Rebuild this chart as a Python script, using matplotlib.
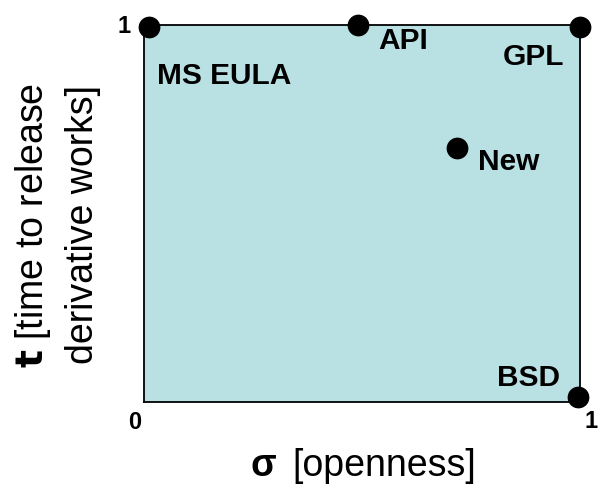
import matplotlib
matplotlib.use("Agg")
import matplotlib.pyplot as plt

plt.rcParams['font.family'] = ['Liberation Sans', 'DejaVu Sans']

names = ["MS EULA", "API", "GPL", "New", "BSD"]
sigma = [0.012, 0.49, 1.0, 0.718, 0.995]
t_vals = [0.995, 1.0, 0.995, 0.675, 0.013]
label_x = [0.03, 0.537, 0.823, 0.766, 0.81]
label_y = [0.867, 0.96, 0.918, 0.639, 0.066]

fig = plt.figure(figsize=(5.98, 4.85), dpi=100)
ax = fig.add_axes([0.241, 0.169, 0.729, 0.777])
ax.set_xlim(0, 1)
ax.set_ylim(0, 1)
ax.set_facecolor('#b9e0e3')
for s in ax.spines.values():
    s.set_linewidth(1.3)
    s.set_color('black')
ax.set_xticks([])
ax.set_yticks([])

ax.scatter(sigma, t_vals, s=215, color='black', zorder=5, clip_on=False)
for n, lx, ly in zip(names, label_x, label_y):
    ax.text(lx, ly, n, fontsize=21.5, fontweight='bold', ha='left', va='center')

# tick labels
ax.text(-0.022, -0.052, "0", fontsize=17, fontweight='bold', ha='center', va='center', transform=ax.transAxes)
fig.text(0.999, 1 - 422 / 485, "1", fontsize=17, fontweight='bold', ha='right', va='center')
ax.text(-0.045, 1.0, "1", fontsize=17, fontweight='bold', ha='center', va='center', transform=ax.transAxes)

# axis labels
ax.text(0.245, -0.167, "σ", fontsize=27, fontweight='bold', ha='left', va='center', transform=ax.transAxes)
ax.text(0.339, -0.167, "[openness]", fontsize=27, ha='left', va='center', transform=ax.transAxes)

fig.text(0.055, 0.535, r"$\mathbf{t}$" + " [time to release", fontsize=27, rotation=90,
         ha='center', va='center')
fig.text(0.139, 0.537, "derivative works]", fontsize=27, rotation=90, ha='center', va='center')

fig.savefig("out.png", dpi=100)
